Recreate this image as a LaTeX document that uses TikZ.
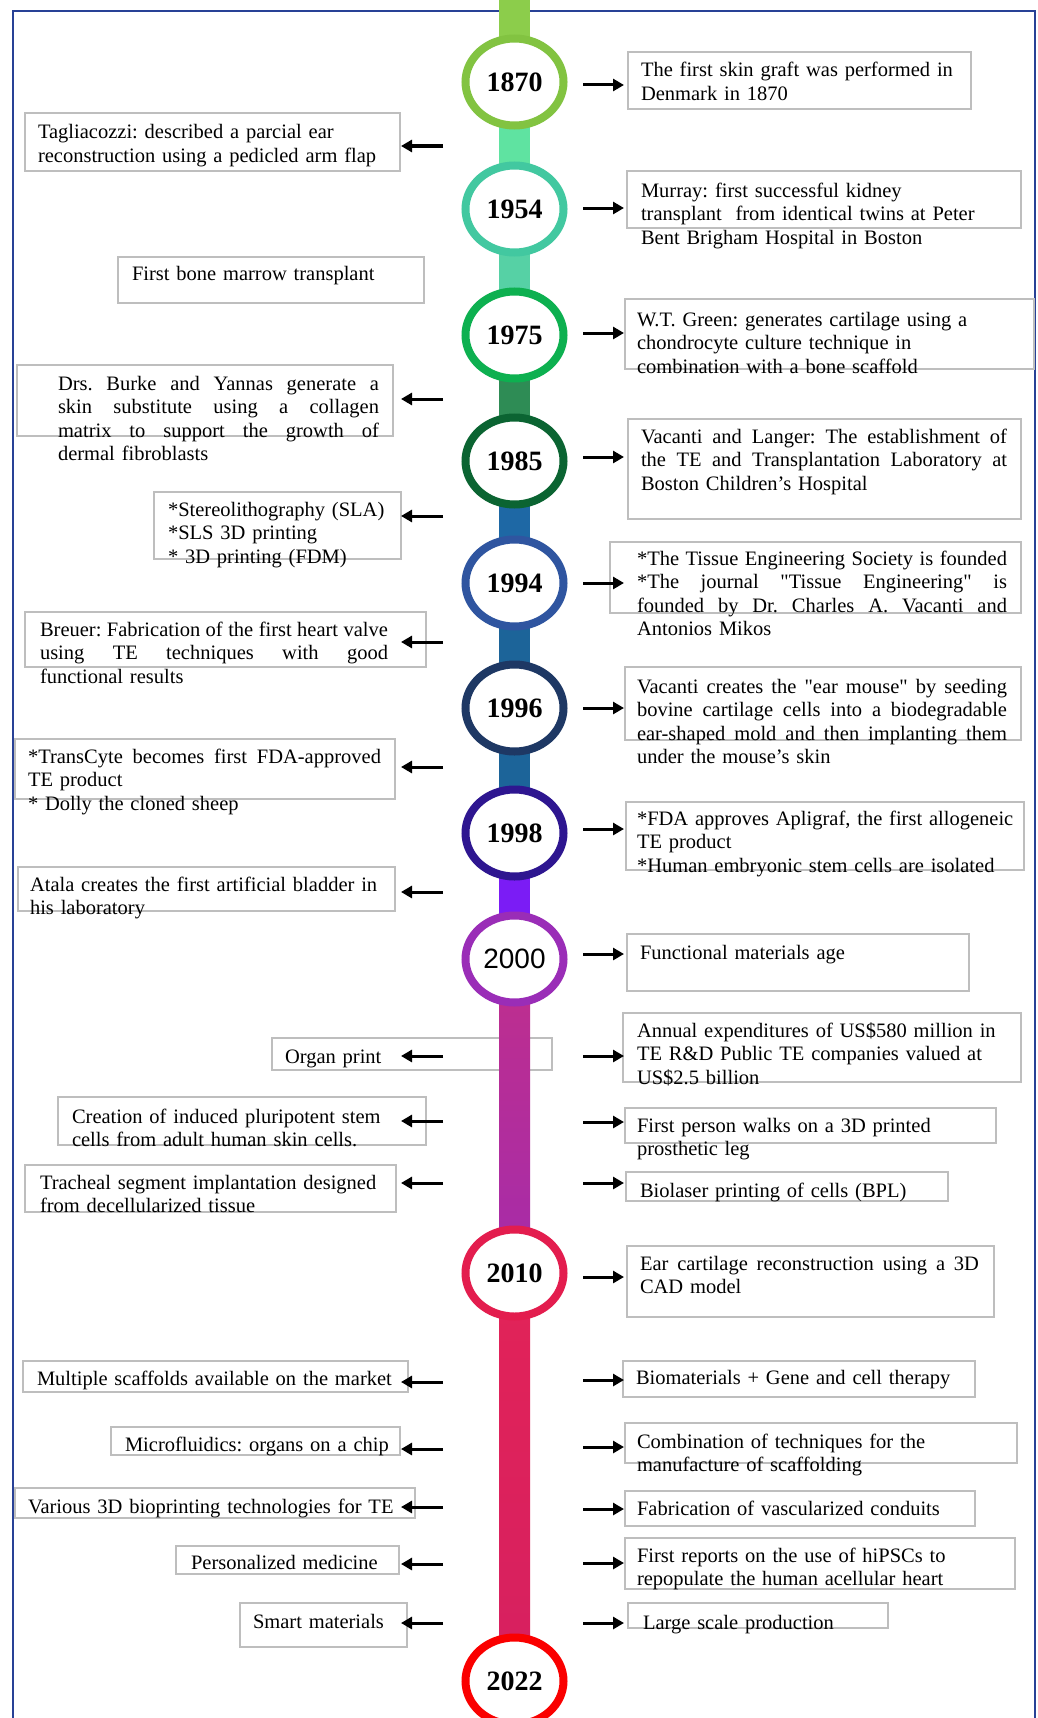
\documentclass[tikz,border=0pt]{standalone}
\usepackage{fontspec}
\setmainfont{Liberation Serif}
\newfontfamily\yrsansfont{Liberation Sans}
\usetikzlibrary{arrows.meta,fit,shapes.geometric}

\definecolor{framec}{RGB}{40,65,150}
\definecolor{boxgray}{RGB}{190,190,190}
% bar colours
\definecolor{b0}{RGB}{140,205,75}
\definecolor{b1}{RGB}{95,227,161}
\definecolor{b2}{RGB}{86,209,165}
\definecolor{b3}{RGB}{46,140,85}
\definecolor{b4}{RGB}{30,104,165}
\definecolor{b5}{RGB}{28,100,153}
\definecolor{b6}{RGB}{28,100,153}
\definecolor{b7}{RGB}{123,28,245}
\definecolor{b8a}{RGB}{192,46,140}
\definecolor{b8b}{RGB}{165,44,170}
\definecolor{b9a}{RGB}{226,35,88}
\definecolor{b9b}{RGB}{214,32,96}
% ring colours
\definecolor{r1870}{RGB}{130,195,65}
\definecolor{r1954}{RGB}{66,200,160}
\definecolor{r1975}{RGB}{13,176,80}
\definecolor{r1985}{RGB}{11,100,50}
\definecolor{r1994}{RGB}{47,85,160}
\definecolor{r1996}{RGB}{30,56,100}
\definecolor{r1998}{RGB}{46,22,144}
\definecolor{r2000}{RGB}{154,45,183}
\definecolor{r2010}{RGB}{227,29,78}
\definecolor{r2022}{RGB}{250,0,0}

\newcommand\txtsize{\fontsize{20.5}{23.5}\selectfont\frenchspacing}
\newcommand\yrsize{\fontsize{28}{30}\selectfont}
\newcommand\jline[2]{\leavevmode\hbox to #1pt{\spaceskip=0.25em plus 1fil minus 0.1em\xspaceskip=\spaceskip #2}}
\newcommand\qq{\textquotedbl}
\newcommand\RArr[2]{\coordinate (#1s) at (583,#2); \coordinate (#1e) at (624,#2); \draw[arr] (#1s) -- (#1e);}
\newcommand\LArr[2]{\coordinate (#1s) at (443,#2); \coordinate (#1e) at (401,#2); \draw[arr] (#1s) -- (#1e);}

\begin{document}
\begin{tikzpicture}[x=1pt,y=-1pt,
  tbox/.style={draw=boxgray, line width=1.2pt, inner sep=0pt, outer sep=0pt},
  txt/.style={anchor=base west, inner sep=0pt, outer sep=0pt, text width=420pt, align=left, font=\txtsize},
  arr/.style={line width=3pt, -{Triangle[length=11pt,width=12pt]}},
  yr/.style={ellipse, draw=#1, line width=8pt, fill=white, minimum width=98pt, minimum height=87pt, inner sep=0pt, font=\yrsize\bfseries},
  barseg/.style={line width=31pt, draw=#1}
]
\path[use as bounding box] (0,0) rectangle (1038,1718);
\clip (0,0) rectangle (1038,1718);
\fill[white] (0,0) rectangle (1038,1718);

% frame
\draw[framec, line width=2.6pt] (13,1730) -- (13,11) -- (1035,11) -- (1035,1730);

% boxes
\node[tbox, fit={(628,52) (971,109)}] (bR1) {};
\node[tbox, fit={(25,113) (400,171)}] (bL1) {};
\node[tbox, fit={(627,171) (1021,228)}] (bR2) {};
\node[tbox, fit={(118,257) (424,303)}] (bL2) {};
\node[tbox, fit={(625,299) (1034,369)}] (bR3) {};
\node[tbox, fit={(17,365) (393,436)}] (bL3) {};
\node[tbox, fit={(628,419) (1021,519)}] (bR4) {};
\node[tbox, fit={(154,492) (401,559)}] (bL4) {};
\node[tbox, fit={(610,542) (1021,613)}] (bR5) {};
\node[tbox, fit={(25,612) (426,667)}] (bL5) {};
\node[tbox, fit={(625,667) (1021,740)}] (bR6) {};
\node[tbox, fit={(15,739) (395,799)}] (bL6) {};
\node[tbox, fit={(626,802) (1024,870)}] (bR7) {};
\node[tbox, fit={(18,867) (395,911)}] (bL7) {};
\node[tbox, fit={(627,934) (969,991)}] (bR8) {};
\node[tbox, fit={(272,1038) (552,1070)}] (bL8) {};
\node[tbox, fit={(623,1013) (1021,1082)}] (bR9) {};
\node[tbox, fit={(58,1097) (426,1145)}] (bL9) {};
\node[tbox, fit={(625,1108) (996,1143)}] (bR10) {};
\node[tbox, fit={(25,1165) (396,1212)}] (bL10) {};
\node[tbox, fit={(626,1172) (948,1201)}] (bR11) {};
\node[tbox, fit={(627,1246) (994,1317)}] (bR12) {};
\node[tbox, fit={(23,1361) (408,1392)}] (bL11) {};
\node[tbox, fit={(623,1361) (975,1397)}] (bR13) {};
\node[tbox, fit={(111,1427) (400,1455)}] (bL12) {};
\node[tbox, fit={(625,1423) (1017,1463)}] (bR14) {};
\node[tbox, fit={(15,1488) (415,1518)}] (bL13) {};
\node[tbox, fit={(625,1491) (975,1526)}] (bR15) {};
\node[tbox, fit={(176,1546) (399,1574)}] (bL14) {};
\node[tbox, fit={(625,1538) (1015,1589)}] (bR16) {};
\node[tbox, fit={(240,1603) (407,1647)}] (bL15) {};
\node[tbox, fit={(628,1603) (888,1628)}] (bR17) {};

% timeline points
\coordinate (ptop) at (514.5,0);
\coordinate (p1870) at (514.5,82);
\coordinate (p1954) at (514.5,209);
\coordinate (p1975) at (514.5,335);
\coordinate (p1985) at (514.5,461);
\coordinate (p1994) at (514.5,583);
\coordinate (p1996) at (514.5,708);
\coordinate (p1998) at (514.5,833);
\coordinate (p2000) at (514.5,959);
\coordinate (p2010) at (514.5,1273);
\coordinate (p2022) at (514.5,1681);

% bar
\draw[barseg=b0] (ptop) -- (p1870);
\draw[barseg=b1] (p1870) -- (p1954);
\draw[barseg=b2] (p1954) -- (p1975);
\draw[barseg=b3] (p1975) -- (p1985);
\draw[barseg=b4] (p1985) -- (p1994);
\draw[barseg=b5] (p1994) -- (p1996);
\draw[barseg=b6] (p1996) -- (p1998);
\draw[barseg=b7] (p1998) -- (p2000);
\shade[top color=b8a, bottom color=b8b] (499,959) rectangle (530,1273);
\shade[top color=b9a, bottom color=b9b] (499,1273) rectangle (530,1681);

% year circles
\node[yr=r1870] (c1870) at (p1870) {1870};
\node[yr=r1954] (c1954) at (p1954) {1954};
\node[yr=r1975] (c1975) at (p1975) {1975};
\node[yr=r1985] (c1985) at (p1985) {1985};
\node[yr=r1994] (c1994) at (p1994) {1994};
\node[yr=r1996] (c1996) at (p1996) {1996};
\node[yr=r1998] (c1998) at (p1998) {1998};
\node[yr=r2000, font=\yrsize\yrsansfont] (c2000) at (p2000) {2000};
\node[yr=r2010] (c2010) at (p2010) {2010};
\node[yr=r2022] (c2022) at (p2022) {2022};

% texts right
\node[txt] (tR1) at (641,77) {The first skin graft was performed in\\Denmark in 1870};
\node[txt] (tR2) at (641,197) {Murray: first successful kidney\\transplant\ \ from identical twins at Peter\\Bent Brigham Hospital in Boston};
\node[txt] (tR3) at (637,326) {W.T. Green: generates cartilage using a\\chondrocyte culture technique in\\combination with a bone scaffold};
\node[txt] (tR4) at (641,443) {\jline{366}{Vacanti and Langer: The establishment of}\\\jline{366}{the TE and Transplantation Laboratory at}\\Boston Children's Hospital};
\node[txt] (tR5) at (637,565) {\jline{370}{*The Tissue Engineering Society is founded}\\\jline{370}{*The journal \qq Tissue Engineering\qq{} is}\\\jline{370}{founded by Dr. Charles A. Vacanti and}\\Antonios Mikos};
\node[txt] (tR6) at (637,693) {\jline{370}{Vacanti creates the \qq ear mouse\qq{} by seeding}\\\jline{370}{bovine cartilage cells into a biodegradable}\\\jline{370}{ear-shaped mold and then implanting them}\\under the mouse's skin};
\node[txt] (tR7) at (637,825) {*FDA approves Apligraf, the first allogeneic\\TE product\\{}*Human embryonic stem cells are isolated};
\node[txt] (tR8) at (640,959) {Functional materials age};
\node[txt] (tR9) at (637,1037) {Annual expenditures of US\$580 million in\\TE R\&D Public TE companies valued at\\US\$2.5 billion};
\node[txt] (tR10) at (637,1132) {First person walks on a 3D printed\\prosthetic leg};
\node[txt] (tR11) at (640,1197) {Biolaser printing of cells (BPL)};
\node[txt] (tR12) at (640,1270) {\jline{339}{Ear cartilage reconstruction using a 3D}\\CAD model};
\node[txt] (tR13) at (636,1384) {Biomaterials + Gene and cell therapy};
\node[txt] (tR14) at (637,1448) {Combination of techniques for the\\manufacture of scaffolding};
\node[txt] (tR15) at (637,1515) {Fabrication of vascularized conduits};
\node[txt] (tR16) at (637,1562) {First reports on the use of hiPSCs to\\repopulate the human acellular heart};
\node[txt] (tR17) at (643,1629) {Large scale production};

% texts left
\node[txt] (tL1) at (38,139) {Tagliacozzi: described a parcial ear\\reconstruction using a pedicled arm flap};
\node[txt] (tL2) at (132,280) {First bone marrow transplant};
\node[txt] (tL3) at (58,390) {\jline{321}{Drs. Burke and Yannas generate a}\\\jline{321}{skin substitute using a collagen}\\\jline{321}{matrix to support the growth of}\\dermal fibroblasts};
\node[txt] (tL4) at (168,516) {*Stereolithography (SLA)\\{}*SLS 3D printing\\{}* 3D printing (FDM)};
\node[txt] (tL5) at (40,636) {\jline{348}{Breuer: Fabrication of the first heart valve}\\\jline{348}{using TE techniques with good}\\functional results};
\node[txt] (tL6) at (28,763) {\jline{353}{*TransCyte becomes first FDA-approved}\\TE product\\{}* Dolly the cloned sheep};
\node[txt] (tL7) at (30,891) {Atala creates the first artificial bladder in\\his laboratory};
\node[txt] (tL8) at (285,1063) {Organ print};
\node[txt] (tL9) at (72,1123) {Creation of induced pluripotent stem\\cells from adult human skin cells.};
\node[txt] (tL10) at (40,1189) {Tracheal segment implantation designed\\from decellularized tissue};
\node[txt] (tL11) at (37,1385) {Multiple scaffolds available on the market};
\node[txt] (tL12) at (125,1451) {Microfluidics: organs on a chip};
\node[txt] (tL13) at (28,1513) {Various 3D bioprinting technologies for TE};
\node[txt] (tL14) at (191,1569) {Personalized medicine};
\node[txt] (tL15) at (253,1628) {Smart materials};

% arrows right
\RArr{aR1}{85}
\RArr{aR2}{208}
\RArr{aR3}{333}
\RArr{aR4}{457}
\RArr{aR5}{583}
\RArr{aR6}{708}
\RArr{aR7}{829}
\RArr{aR8}{954}
\RArr{aR9}{1056}
\RArr{aR10}{1122}
\RArr{aR11}{1183}
\RArr{aR12}{1277}
\RArr{aR13}{1380}
\RArr{aR14}{1447}
\RArr{aR15}{1509}
\RArr{aR16}{1563}
\RArr{aR17}{1623}

% arrows left
\LArr{aL1}{146}
\LArr{aL3}{399}
\LArr{aL4}{516}
\LArr{aL5}{642}
\LArr{aL6}{767}
\LArr{aL7}{892}
\LArr{aL8}{1056}
\LArr{aL9}{1121}
\LArr{aL10}{1183}
\LArr{aL11}{1382}
\LArr{aL12}{1449}
\LArr{aL13}{1507}
\LArr{aL14}{1564}
\LArr{aL15}{1623}
\end{tikzpicture}
\end{document}
